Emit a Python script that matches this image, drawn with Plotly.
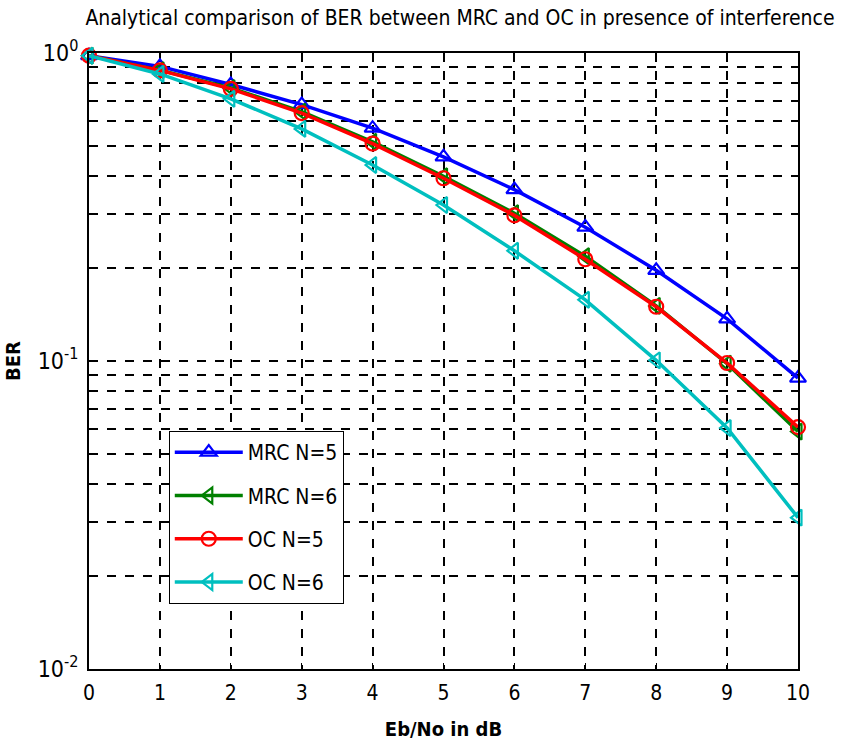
import plotly.graph_objects as go

ebno = [0, 1, 2, 3, 4, 5, 6, 7, 8, 9, 10]
mrc_n5 = [0.98, 0.905, 0.79, 0.68, 0.57, 0.46, 0.36, 0.272, 0.197, 0.137, 0.088]
mrc_n6 = [0.98, 0.88, 0.77, 0.645, 0.515, 0.398, 0.302, 0.219, 0.151, 0.098, 0.059]
oc_n5 = [0.98, 0.878, 0.765, 0.638, 0.508, 0.392, 0.297, 0.214, 0.150, 0.0985, 0.061]
oc_n6 = [0.98, 0.855, 0.71, 0.567, 0.433, 0.321, 0.228, 0.158, 0.1005, 0.0606, 0.031]
y_tickvals = [0.01, 0.1, 1]
y_ticktext = ["10<sup>-2</sup>", "10<sup>-1</sup>", "10<sup>0</sup>"]

FONT = "Liberation Sans Narrow, Arial Narrow, DejaVu Sans Condensed, sans-serif"

series = [
    ("MRC N=5", mrc_n5, "#0000ff", "triangle-up-open"),
    ("MRC N=6", mrc_n6, "#008000", "triangle-left-open"),
    ("OC N=5", oc_n5, "#ff0000", "circle-open"),
    ("OC N=6", oc_n6, "#00bfbf", "triangle-left-open"),
]

fig = go.Figure()
for name, vals, col, sym in series:
    fig.add_trace(go.Scatter(
        x=ebno, y=vals, name=name, mode="lines+markers",
        line=dict(color=col, width=3.5),
        marker=dict(symbol=sym, size=14, color=col, line=dict(color=col, width=2.2)),
        cliponaxis=False, legendgroup=name,
    ))

minor_vals = []
for d in [0.01, 0.1]:
    for k in range(2, 10):
        minor_vals.append(round(d * k, 4))

fig.update_layout(
    width=841, height=749,
    margin=dict(l=87, r=43, t=53, b=80),
    paper_bgcolor="white", plot_bgcolor="white",
    font=dict(family=FONT, size=18, color="black"),
    title=dict(text="Analytical comparison of BER between MRC and OC in presence of interference",
               x=460 / 841, xanchor="center", y=1 - 18 / 749, yanchor="middle",
               font=dict(family=FONT, size=21, color="black")),
    showlegend=True,
    legend=dict(x=(167 - 87) / 711, y=(669 - 431) / 616, xanchor="left", yanchor="top",
                bgcolor="white", bordercolor="black", borderwidth=1,
                font=dict(family=FONT, size=21, color="black"),
                itemwidth=68, tracegroupgap=13, traceorder="grouped"),
    xaxis=dict(range=[0, 10], tickvals=ebno, showline=True, linecolor="black", linewidth=2,
               mirror=True, showgrid=True, gridcolor="black", griddash="dash", gridwidth=1.5,
               ticks="inside", ticklen=6, tickcolor="black", zeroline=False,
               tickfont=dict(size=21), ticklabelstandoff=4,
               title=dict(text="<b>Eb/No in dB</b>", font=dict(size=20), standoff=18)),
    yaxis=dict(type="log", range=[-2, 0], tickvals=y_tickvals, ticktext=y_ticktext,
               showline=True, linecolor="black", linewidth=2, mirror=True,
               showgrid=True, gridcolor="black", griddash="dash", gridwidth=1.5,
               ticks="inside", ticklen=6, tickcolor="black", zeroline=False,
               tickfont=dict(size=23), ticklabelstandoff=4,
               minor=dict(tickvals=minor_vals, showgrid=True, gridcolor="black",
                          griddash="dash", gridwidth=1.5, ticks="inside", ticklen=4,
                          tickcolor="black"),
               title=dict(text="<b>BER</b>", font=dict(size=20), standoff=12)),
)

fig.write_html("out.html")
